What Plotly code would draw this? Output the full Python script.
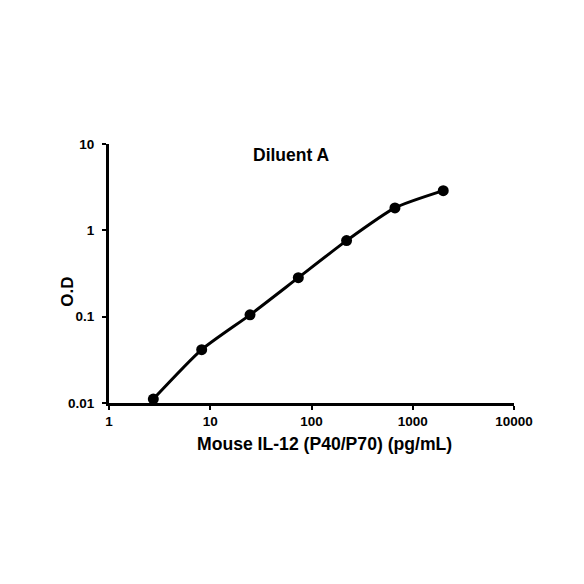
import plotly.graph_objects as go

# standard curve, Diluent A
concentration = [2.74, 8.23, 24.7, 74.1, 222, 667, 2000]
od = [0.0111, 0.0415, 0.105, 0.283, 0.76, 1.82, 2.88]

x_ticks = [1, 10, 100, 1000, 10000]
x_tick_text = ['1', '10', '100', '1000', '10000']
y_ticks = [0.01, 0.1, 1, 10]
y_tick_text = ['0.01', '0.1', '1', '10']

fig = go.Figure()
fig.add_trace(
    go.Scatter(
        x=concentration,
        y=od,
        mode='lines+markers',
        line=dict(color='black', width=3, shape='spline', smoothing=0.6),
        marker=dict(color='black', size=11),
        showlegend=False,
    )
)

# page has an 8px body margin, so margins are shifted to compensate
fig.update_layout(
    width=584,
    height=584,
    margin=dict(l=101, r=78, t=136, b=189),
    paper_bgcolor='white',
    plot_bgcolor='white',
    font=dict(family='Liberation Sans, Arial, sans-serif', color='black'),
    annotations=[
        dict(
            text='<b>Diluent A</b>',
            x=0.451, y=0.959, xref='paper', yref='paper',
            xanchor='center', yanchor='middle',
            showarrow=False, font=dict(size=17.5),
        ),
        dict(
            text='<b>Mouse IL-12 (P40/P70) (pg/mL)</b>',
            x=0.533, y=-0.157, xref='paper', yref='paper',
            xanchor='center', yanchor='middle',
            showarrow=False, font=dict(size=17.6),
        ),
        dict(
            text='<b>O.D</b>',
            x=-0.101, y=0.43, xref='paper', yref='paper',
            xanchor='center', yanchor='middle', textangle=-90,
            showarrow=False, font=dict(size=17),
        ),
    ],
)

fig.update_xaxes(
    type='log',
    range=[0, 4],
    tickvals=x_ticks,
    ticktext=['<b>%s</b>' % t for t in x_tick_text],
    tickfont=dict(size=13.5),
    showline=True, linecolor='black', linewidth=3,
    ticks='outside', ticklen=4, tickwidth=2, tickcolor='black',
    showgrid=False, zeroline=False,
)
fig.update_yaxes(
    type='log',
    range=[-2, 1],
    tickvals=y_ticks,
    ticktext=['<b>%s</b>' % t for t in y_tick_text],
    tickfont=dict(size=13.5),
    showline=True, linecolor='black', linewidth=3,
    ticks='outside', ticklen=4, tickwidth=2, tickcolor='black',
    ticklabelstandoff=5,
    showgrid=False, zeroline=False,
)

fig.write_html('out.html')
